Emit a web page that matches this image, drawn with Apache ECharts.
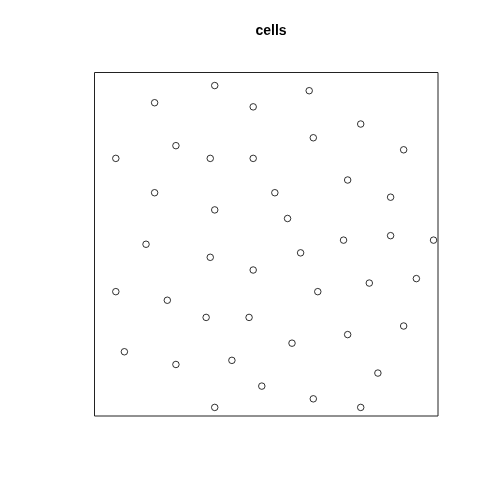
<!DOCTYPE html>
<html><head><meta charset="utf-8">
<script src="https://cdn.jsdelivr.net/npm/echarts@6/dist/echarts.min.js"></script>
<style>html,body{margin:0;padding:0;background:#fff}#c{width:504px;height:504px}</style>
</head><body><div id="c"></div>
<script>
var xs = [0.350,0.625,0.175,0.462,0.775,0.637,0.237,0.900,0.062,0.337,0.462,0.737,0.175,0.525,0.862,0.350,0.562,0.862,0.725,0.987,0.150,0.600,0.337,0.462,0.937,0.800,0.062,0.650,0.212,0.325,0.450,0.900,0.737,0.575,0.087,0.400,0.237,0.825,0.487,0.637,0.350,0.775];
var ys = [0.962,0.947,0.912,0.900,0.850,0.810,0.787,0.775,0.750,0.750,0.750,0.687,0.650,0.650,0.637,0.600,0.575,0.525,0.512,0.512,0.500,0.475,0.462,0.425,0.400,0.387,0.362,0.362,0.337,0.287,0.287,0.262,0.237,0.212,0.187,0.162,0.150,0.125,0.087,0.050,0.025,0.025];
var titleText = 'cells';
var pts = xs.map(function(x,i){return [x, ys[i]];});
var chart = echarts.init(document.getElementById('c'), null, {renderer:'canvas'});
chart.setOption({
  animation:false,
  backgroundColor:'#fff',
  title:{text:titleText,left:266,top:19,textAlign:'center',textStyle:{fontSize:14,fontWeight:'bold',color:'#000',fontFamily:'Liberation Sans, Arial, sans-serif'}},
  grid:{left:94.5,top:72.5,width:343.5,height:343.5,show:true,borderColor:'#222',borderWidth:1,backgroundColor:'transparent'},
  xAxis:{type:'value',min:0,max:1,show:false},
  yAxis:{type:'value',min:0,max:1,show:false},
  series:[{type:'scatter',data:pts,symbol:'circle',symbolSize:6.5,
    itemStyle:{color:'transparent',borderColor:'#000',borderWidth:1}}]
});
</script></body></html>
